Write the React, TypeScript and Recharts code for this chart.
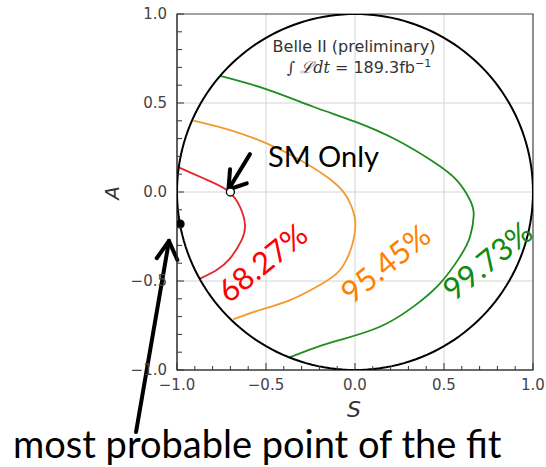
import {
  ScatterChart,
  Scatter,
  XAxis,
  YAxis,
  CartesianGrid,
  ReferenceArea,
  ReferenceLine,
} from 'recharts'

// contour lines, in (S, A)
const contour6827 = [
  [-0.99, 0.138], [-0.852, 0.077], [-0.721, 0.011], [-0.646, -0.083],
  [-0.618, -0.185], [-0.637, -0.27], [-0.702, -0.373], [-0.777, -0.438],
  [-0.871, -0.487],
]
const contour9545 = [
  [-0.908, 0.401], [-0.702, 0.348], [-0.496, 0.273], [-0.309, 0.18],
  [-0.159, 0.086], [-0.066, 0.002], [-0.019, -0.083], [0.002, -0.18],
  [-0.019, -0.307], [-0.084, -0.438], [-0.197, -0.522], [-0.365, -0.607],
  [-0.534, -0.663], [-0.684, -0.716],
]
const contour9973 = [
  [-0.758, 0.652], [-0.496, 0.577], [-0.234, 0.479], [0, 0.395],
  [0.234, 0.292], [0.44, 0.17], [0.571, 0.067], [0.646, -0.045],
  [0.667, -0.13], [0.646, -0.251], [0.59, -0.363], [0.478, -0.513],
  [0.328, -0.644], [0.14, -0.757], [-0.084, -0.831], [-0.234, -0.878],
  [-0.365, -0.928],
]
const smPoint = [[-0.7, 0.0]]
const bestFitPoint = [[-0.982, -0.18]]

// arrows (tail, tip, two head arms) in data coordinates
const smArrow = [[-0.59, 0.213], [-0.711, 0.014]]
const smArrowHead = [[-0.702, 0.128], [-0.608, 0.049]]
const fitArrow = [[-1.23, -1.348], [-1.045, -0.275]]
const fitArrowHead = [[-1.114, -0.372], [-0.998, -0.382]]

const tickValues = [
  -1, -0.9, -0.8, -0.7, -0.6, -0.5, -0.4, -0.3, -0.2, -0.1, 0,
  0.1, 0.2, 0.3, 0.4, 0.5, 0.6, 0.7, 0.8, 0.9, 1,
]
const gridValues = [-0.5, 0, 0.5]

// physical boundary S^2 + A^2 <= 1 (not data)
const boundary = Array.from({ length: 181 }, (_, i) => {
  const t = (i / 180) * 2 * Math.PI
  return { S: Math.cos(t), A: Math.sin(t) }
})

const toPts = (arr: number[][]) => arr.map(([S, A]) => ({ S, A }))

const isMajor = (v: number) => Math.abs(v * 2 - Math.round(v * 2)) < 1e-6
const fmt = (v: number) => (v < 0 ? '\u2212' : '') + Math.abs(v).toFixed(1)

const tickFont = { fontFamily: 'DejaVu Sans', fontSize: 15, fill: '#444' }

const XTick = ({ x, y, payload }: any) => {
  const v = payload.value
  const major = isMajor(v)
  return (
    <g>
      <line x1={x} y1={y} x2={x} y2={y - (major ? 7 : 4)} stroke="#333" />
      {major && (
        <text x={x} y={y + 15} textAnchor="middle" dominantBaseline="central" {...tickFont}>
          {fmt(v)}
        </text>
      )}
    </g>
  )
}

const YTick = ({ x, y, payload }: any) => {
  const v = payload.value
  const major = isMajor(v)
  return (
    <g>
      <line x1={x} y1={y} x2={x + (major ? 7 : 5)} y2={y} stroke="#333" />
      {major && (
        <text x={x - 10} y={y} textAnchor="end" dominantBaseline="central" {...tickFont}>
          {fmt(v)}
        </text>
      )}
    </g>
  )
}

const NoDot = () => <g />
const OpenDot = ({ cx, cy }: any) => (
  <circle cx={cx} cy={cy} r={4} fill="#fff" stroke="#000" strokeWidth={1.3} />
)
const FilledDot = ({ cx, cy }: any) => <circle cx={cx} cy={cy} r={4.5} fill="#000" />

const arrowSegs = (line: number[][], head: number[][]) => {
  const tip = line[1]
  return [
    [line[0], tip],
    [head[0], tip],
    [head[1], tip],
  ]
}

export default function App() {
  const arrows = [...arrowSegs(smArrow, smArrowHead), ...arrowSegs(fitArrow, fitArrowHead)]
  return (
    <div style={{ position: 'absolute', left: 0, top: 0, width: 546, height: 467, background: '#fff' }}>
      <ScatterChart
        width={546}
        height={467}
        margin={{ top: 14, right: 13, left: 107, bottom: 57 }}
      >
        <CartesianGrid
          stroke="#d4d4d4"
          verticalValues={gridValues}
          horizontalValues={gridValues}
        />
        <XAxis
          type="number"
          dataKey="S"
          domain={[-1, 1]}
          ticks={tickValues}
          interval={0}
          allowDataOverflow
          height={40}
          tickSize={0}
          tickMargin={0}
          tickLine={false}
          tick={<XTick />}
          axisLine={{ stroke: '#333' }}
        />
        <YAxis
          type="number"
          dataKey="A"
          domain={[-1, 1]}
          ticks={tickValues}
          interval={0}
          allowDataOverflow
          width={70}
          tickSize={0}
          tickMargin={0}
          tickLine={false}
          tick={<YTick />}
          axisLine={{ stroke: '#333' }}
        />
        <ReferenceArea x1={-1} x2={1} y1={-1} y2={1} fill="none" stroke="#444" strokeWidth={1.2} />
        <Scatter data={toPts(contour6827)} line={{ stroke: '#e4262b', strokeWidth: 1.8 }} lineJointType="natural" shape={<NoDot />} isAnimationActive={false} />
        <Scatter data={toPts(contour9545)} line={{ stroke: '#f39a2c', strokeWidth: 1.8 }} lineJointType="natural" shape={<NoDot />} isAnimationActive={false} />
        <Scatter data={toPts(contour9973)} line={{ stroke: '#1f8c1f', strokeWidth: 1.8 }} lineJointType="natural" shape={<NoDot />} isAnimationActive={false} />
        <Scatter data={boundary} line={{ stroke: '#000', strokeWidth: 2 }} shape={<NoDot />} isAnimationActive={false} />
        <Scatter data={toPts(smPoint)} shape={<OpenDot />} isAnimationActive={false} />
        <Scatter data={toPts(bestFitPoint)} shape={<FilledDot />} isAnimationActive={false} />
        {arrows.map((seg, i) => (
          <ReferenceLine
            key={i}
            segment={[{ x: seg[0][0], y: seg[0][1] }, { x: seg[1][0], y: seg[1][1] }]}
            ifOverflow="visible"
            stroke="#000"
            strokeWidth={4}
            strokeLinecap="round"
          />
        ))}
      </ScatterChart>
      <svg
        width={546}
        height={467}
        style={{ position: 'absolute', left: 0, top: 0, pointerEvents: 'none' }}
      >
        <text x={112} y={193} transform="rotate(-90 112 193)" textAnchor="middle" dominantBaseline="central"
          fontFamily="DejaVu Sans" fontStyle="italic" fontSize={20} fill="#333">A</text>
        <text x={354} y={409} textAnchor="middle" dominantBaseline="central"
          fontFamily="DejaVu Sans" fontStyle="italic" fontSize={22} fill="#333">S</text>
        <text x={354} y={52} textAnchor="middle" fontFamily="DejaVu Sans" fontSize={16} fill="#333">
          Belle II (preliminary)
        </text>
        <text x={359} y={73} textAnchor="middle" fontFamily="DejaVu Sans" fontSize={16} fill="#333">
          <tspan fontFamily="DejaVu Serif">{'\u222B '}</tspan>
          <tspan fontFamily="DejaVu Serif" fontStyle="italic">{'\u2112dt'}</tspan>
          <tspan>{' = 189.3fb'}</tspan>
          <tspan fontSize={11} dy={-6}>{'\u22121'}</tspan>
        </text>
        <text x={268} y={167} fontFamily="Lato" fontSize={29} fill="#000">SM Only</text>
        <text x={262} y={262} transform="rotate(-39 262 262)" textAnchor="middle" dominantBaseline="central"
          fontFamily="Lato" fontSize={31} fill="#ff0000">68.27%</text>
        <text x={385} y={263} transform="rotate(-39 385 263)" textAnchor="middle" dominantBaseline="central"
          fontFamily="Lato" fontSize={31} fill="#ff8000">95.45%</text>
        <text x={487} y={260} transform="rotate(-39 487 260)" textAnchor="middle" dominantBaseline="central"
          fontFamily="Lato" fontSize={31} fill="#108a10">99.73%</text>
        <text x={13} y={458} fontFamily="Lato" fontSize={38} fill="#000">most probable point of the fit</text>
      </svg>
    </div>
  )
}
